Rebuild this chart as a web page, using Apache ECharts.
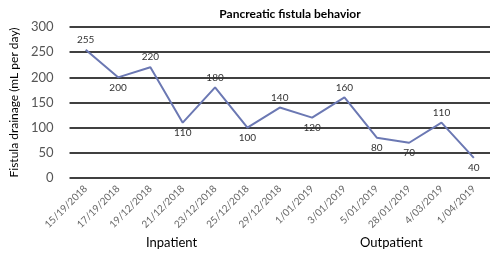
<!DOCTYPE html>
<html>
<head>
<meta charset="utf-8">
<script src="https://cdn.jsdelivr.net/npm/echarts@6/dist/echarts.min.js"></script>
<style>
html,body{margin:0;padding:0;background:#fff;}
#chart{width:500px;height:253px;}
</style>
</head>
<body>
<div id="chart"></div>
<script>
var dates = ['15/19/2018','17/19/2018','19/12/2018','21/12/2018','23/12/2018','25/12/2018','29/12/2018',
    '1/01/2019','3/01/2019','5/01/2019','28/01/2019','4/03/2019','1/04/2019'];
var drainage = [255, 200, 220, 110, 180, 100, 140, 120, 160, 80, 70, 110, 40];
var labelSide = ['top','bottom','top','bottom','top','bottom','top','bottom','top','bottom','bottom','top','bottom'];

var seriesData = drainage.map(function (v, i) {
    return { value: v, label: { position: labelSide[i] } };
});

var option = {
    animation: false,
    title: {
        text: 'Pancreatic fistula behavior',
        left: 285,
        textAlign: 'center',
        top: 3,
        textStyle: { fontSize: 12, fontWeight: 'bold', color: '#000', fontFamily: 'Lato' }
    },
    grid: { left: 65, right: 10, top: 27, bottom: 75 },
    xAxis: {
        type: 'category',
        boundaryGap: true,
        data: dates,
        axisLine: { show: false },
        axisTick: { show: false },
        axisLabel: { rotate: 45, color: '#666', fontSize: 10, fontFamily: 'Lato', margin: 9 }
    },
    yAxis: {
        type: 'value',
        min: 0,
        max: 300,
        interval: 50,
        name: 'Fistula drainage (mL per day)',
        nameLocation: 'middle',
        nameGap: 42,
        nameTextStyle: { color: '#000', fontSize: 12, fontFamily: 'Lato' },
        axisLabel: { color: '#555', fontSize: 13, fontFamily: 'Lato', margin: 16 },
        splitLine: { lineStyle: { color: '#000', width: 1.5 } }
    },
    series: [{
        type: 'line',
        data: seriesData,
        symbol: 'circle',
        symbolSize: 2,
        showSymbol: true,
        itemStyle: { color: 'rgba(0,0,0,0)', borderWidth: 0 },
        lineStyle: { color: '#6b78b3', width: 2 },
        label: { show: true, color: '#333', fontSize: 10, fontFamily: 'Lato', distance: 4 }
    }],
    graphic: [
        { type: 'text', left: 146, top: 236, style: { text: 'Inpatient', fill: '#000', fontSize: 13, fontFamily: 'Lato' } },
        { type: 'text', left: 360, top: 236, style: { text: 'Outpatient', fill: '#000', fontSize: 13, fontFamily: 'Lato' } }
    ]
};

var chart = echarts.init(document.getElementById('chart'));
chart.setOption(option);
</script>
</body>
</html>
